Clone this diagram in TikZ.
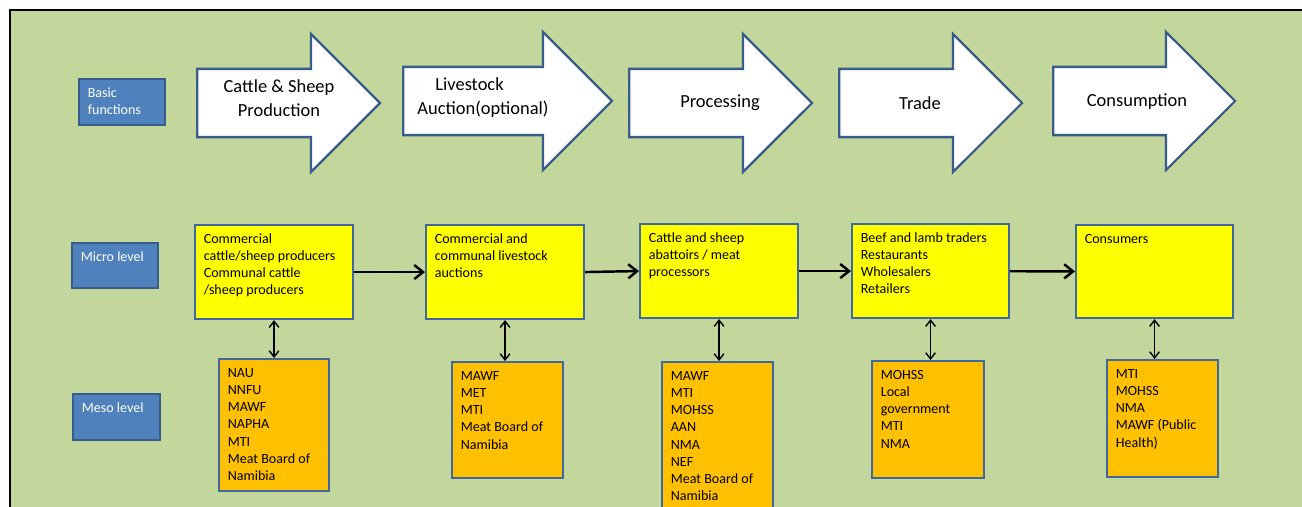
\documentclass[tikz,border=0pt]{standalone}
\usepackage{fontspec}
\setmainfont{Carlito}
\usetikzlibrary{shapes.arrows, arrows.meta}

\definecolor{bggreen}{HTML}{C3D69B}
\definecolor{labelblue}{HTML}{4F81BD}
\definecolor{labelline}{HTML}{385D8A}
\definecolor{boxline}{HTML}{41689E}
\definecolor{microyellow}{HTML}{FFFF00}
\definecolor{mesoorange}{HTML}{FFC000}

% one pixel of the layout
\newlength\pxu
\setlength\pxu{0.02cm}
% text set at the top left of a box of w x h pixels
\newcommand{\boxtext}[3]{\parbox[c][\dimexpr #2\pxu-7pt\relax][t]{\dimexpr #1\pxu-10pt\relax}{\raggedright\strut #3}}

\tikzset{
  levelbox/.style={draw=labelline, fill=labelblue, line width=1.2pt, anchor=north west,
    inner xsep=5pt, inner ysep=3.5pt, text=white, font=\fontsize{8}{9.8}\selectfont},
  microbox/.style={draw=boxline, fill=microyellow, line width=1.2pt, anchor=north west,
    inner xsep=5pt, inner ysep=3.5pt, font=\fontsize{8}{9.8}\selectfont},
  mesobox/.style={microbox, fill=mesoorange},
  stagearrow/.style={single arrow, draw=labelline, fill=white, line width=1.3pt, anchor=tail,
    inner xsep=0pt, inner ysep=0.66cm, single arrow head extend=0.7cm},
  stagetext/.style={font=\fontsize{10.5}{13.6}\selectfont, align=center},
  flowline/.style={->, line width=1.4pt},
  tieline/.style={{Straight Barb[length=3.5pt, width=5.5pt]}-{Straight Barb[length=3.5pt, width=5.5pt]}, line width=0.8pt},
}

\begin{document}
\begin{tikzpicture}[x=0.02cm, y=-0.02cm, >={Straight Barb[length=5pt, width=8pt]}]
  \useasboundingbox (0,0) rectangle (1302,507);
  \clip (0,0) rectangle (1302,507);
  \fill[bggreen] (10,10) rectangle (1302,507);
  \draw[line width=1.2pt] (10,507) -- (10,10) -- (1302,10);

  % row labels
  \node[levelbox] (basic) at (78,78) {\boxtext{86}{46}{Basic\\functions}};
  \node[levelbox] (micro) at (71,242) {\boxtext{86}{45}{Micro level}};
  \node[levelbox] (meso) at (72,393) {\boxtext{87}{46}{Meso level}};

  % basic functions
  \node[stagearrow, minimum height=3.66cm] (produce) at (196,103) {};
  \node[stagearrow, minimum height=4.18cm] (auction) at (402,101) {};
  \node[stagearrow, minimum height=3.66cm] (process) at (628,103) {};
  \node[stagearrow, minimum height=3.66cm] (trade) at (838,103) {};
  \node[stagearrow, minimum height=3.64cm] (consume) at (1052,101) {};

  \node[stagetext] (producetext) at (279,98) {Cattle \& Sheep\\Production};
  \node[stagetext, align=left] (auctiontext) at (483,98) {\hspace{0.36cm}Livestock\\Auction(optional)};
  \node[stagetext] (processtext) at (720,103) {Processing};
  \node[stagetext] (tradetext) at (920,103) {Trade};
  \node[stagetext] (consumetext) at (1137,102) {Consumption};

  % micro level
  \node[microbox] (producers) at (194,224)
    {\boxtext{158}{94}{Commercial\\cattle/sheep producers\\Communal cattle\\/sheep producers}};
  \node[microbox] (auctions) at (425,224)
    {\boxtext{158}{94}{Commercial and\\communal livestock\\auctions}};
  \node[microbox] (abattoirs) at (639,223)
    {\boxtext{158}{94}{Cattle and sheep\\abattoirs / meat\\processors}};
  \node[microbox] (traders) at (851,223)
    {\boxtext{157}{94}{Beef and lamb traders\\Restaurants\\Wholesalers\\Retailers}};
  \node[microbox] (consumers) at (1075,224)
    {\boxtext{157}{93}{Consumers}};

  % meso level
  \node[mesobox] (prodorgs) at (218,358)
    {\boxtext{110}{132}{NAU\\NNFU\\MAWF\\NAPHA\\MTI\\Meat Board of\\Namibia}};
  \node[mesobox] (auctionorgs) at (451,361)
    {\boxtext{111}{116}{MAWF\\MET\\MTI\\Meat Board of\\Namibia}};
  \node[mesobox] (abattoirorgs) at (661,361)
    {\boxtext{111}{160}{MAWF\\MTI\\MOHSS\\AAN\\NMA\\NEF\\Meat Board of\\Namibia}};
  \node[mesobox] (tradeorgs) at (871,360)
    {\boxtext{112}{117}{MOHSS\\Local\\government\\MTI\\NMA}};
  \node[mesobox] (consumerorgs) at (1106,359)
    {\boxtext{111}{117}{MTI\\MOHSS\\NMA\\MAWF (Public\\Health)}};

  \draw[flowline] (producers) -- (auctions);
  \draw[flowline] (auctions.east) -- (abattoirs.west);
  \draw[flowline] (abattoirs) -- (traders);
  \draw[flowline] (traders) -- (consumers);

  \draw[tieline] (producers.south) -- (producers.south |- prodorgs.north);
  \draw[tieline] (auctions.south) -- (auctions.south |- auctionorgs.north);
  \draw[tieline] (abattoirs.south) -- (abattoirs.south |- abattoirorgs.north);
  \draw[tieline] (traders.south) -- (traders.south |- tradeorgs.north);
  \draw[tieline] (consumers.south) -- (consumers.south |- consumerorgs.north);
\end{tikzpicture}
\end{document}
